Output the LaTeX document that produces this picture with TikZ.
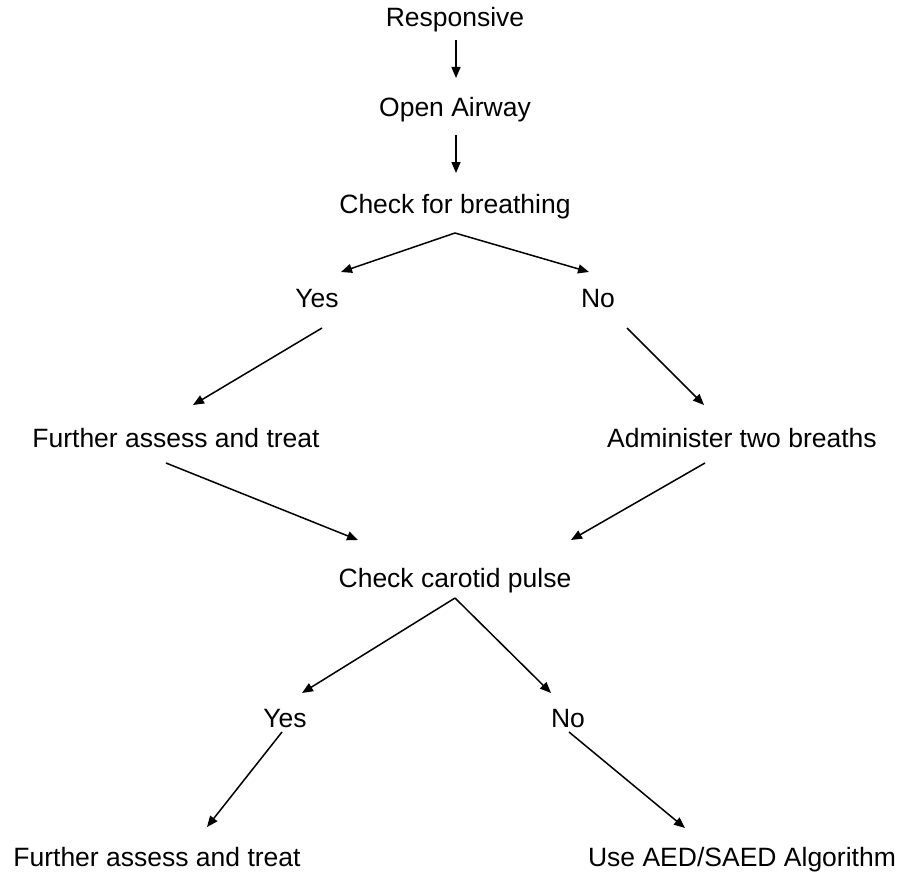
\documentclass[tikz,border=0pt]{standalone}
\usepackage{fontspec}
\setmainfont{Liberation Sans}
\usetikzlibrary{arrows.meta}
\tikzset{
  lbl/.style={anchor=base, inner sep=0pt, font=\fontsize{26.5}{31}\selectfont},
  arr/.style={line width=1.5pt, -{Triangle[length=11pt,width=9pt]}},
  ln/.style={line width=1.5pt}
}
\begin{document}
\begin{tikzpicture}[x=1pt,y=-1pt]
\useasboundingbox[fill=white] (0,0) rectangle (903,875);
% texts
\node[lbl] (resp) at (455,27) {Responsive};
\node[lbl] (open) at (455,117) {Open Airway};
\node[lbl] (brth) at (455,213) {Check for breathing};
\node[lbl] (yes1) at (317,307) {Yes};
\node[lbl] (no1) at (598,307) {No};
\node[lbl] (fur1) at (176,447) {Further assess and treat};
\node[lbl] (adm) at (742,447) {Administer two breaths};
\node[lbl] (car) at (455,587) {Check carotid pulse};
\node[lbl] (yes2) at (285,727) {Yes};
\node[lbl] (no2) at (568,727) {No};
\node[lbl] (fur2) at (157,866) {Further assess and treat};
\node[lbl] (aed) at (742,866) {Use AED/SAED Algorithm};
% connector points
\coordinate (r1) at (456,40);  \coordinate (o1) at (456,78);
\coordinate (r2) at (456,135); \coordinate (o2) at (456,173);
\coordinate (ap1) at (455,233);
\coordinate (ty1) at (341,272); \coordinate (tn1) at (589,272);
\coordinate (sy1) at (322,328); \coordinate (tf1) at (193,405);
\coordinate (sn1) at (627,328); \coordinate (ta1) at (704,405);
\coordinate (sf1) at (166,463); \coordinate (tc1) at (358,540);
\coordinate (sa1) at (705,463); \coordinate (tc2) at (571,540);
\coordinate (ap2) at (455,598);
\coordinate (ty2) at (302,693); \coordinate (tn2) at (551,693);
\coordinate (sy2) at (282,732); \coordinate (tf2) at (207,827);
\coordinate (sn2) at (569,732); \coordinate (te2) at (685,828);
% connectors
\draw[arr] (r1) -- (o1);
\draw[arr] (r2) -- (o2);
\draw[arr] (ap1) -- (ty1);
\draw[arr] (ap1) -- (tn1);
\draw[arr] (sy1) -- (tf1);
\draw[arr] (sn1) -- (ta1);
\draw[arr] (sf1) -- (tc1);
\draw[arr] (sa1) -- (tc2);
\draw[arr] (ap2) -- (ty2);
\draw[arr] (ap2) -- (tn2);
\draw[arr] (sy2) -- (tf2);
\draw[arr] (sn2) -- (te2);
\end{tikzpicture}
\end{document}
